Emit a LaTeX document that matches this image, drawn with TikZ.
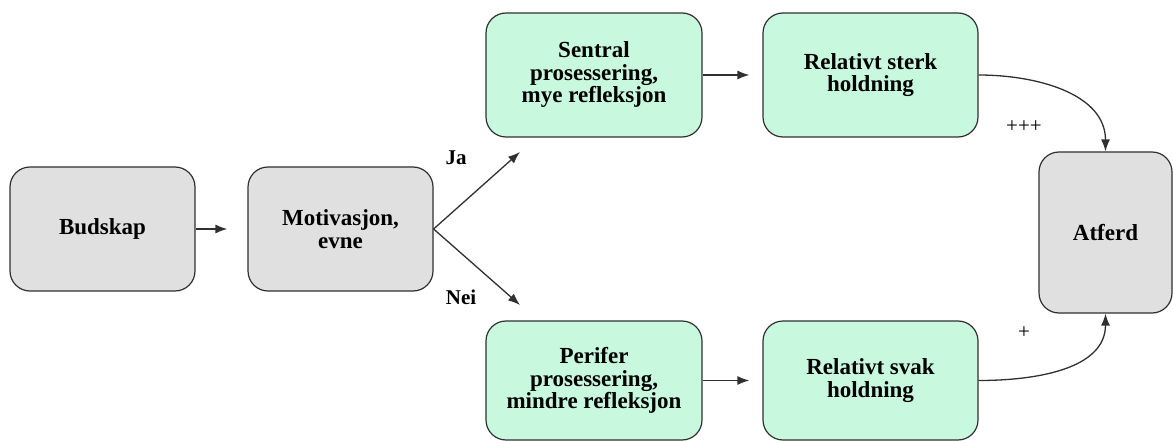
\documentclass[tikz,border=0pt]{standalone}
\usepackage{fontspec}
\setmainfont{Liberation Serif}
\usetikzlibrary{arrows.meta}
\definecolor{boxgray}{HTML}{E0E0E0}
\definecolor{boxgreen}{HTML}{C8F8DE}
\definecolor{edge}{HTML}{303030}
\begin{document}
\begin{tikzpicture}[x=1pt,y=-1pt,
  box/.style={draw=edge, line width=1.2pt, rounded corners=20pt, align=center,
    font=\fontsize{23}{22.5}\selectfont\bfseries, inner sep=0pt},
  graybox/.style={box, fill=boxgray},
  greenbox/.style={box, fill=boxgreen},
  link/.style={draw=edge, line width=1.3pt, -{Latex[length=12pt,width=9pt]}},
  lbl/.style={font=\fontsize{21}{22}\selectfont\bfseries, inner sep=0pt},
  sign/.style={font=\fontsize{21}{22}\selectfont, inner sep=0pt}]
\useasboundingbox (0,0) rectangle (1173,441);

\node[graybox, minimum width=185pt, minimum height=124pt] (budskap) at (102.5,229) {Budskap};
\node[graybox, minimum width=185pt, minimum height=124pt] (motiv) at (340.5,229) {Motivasjon,\\evne};
\node[greenbox, minimum width=216pt, minimum height=124pt] (sentral) at (594,75) {Sentral\\prosessering,\\mye refleksjon};
\node[greenbox, minimum width=215pt, minimum height=124pt] (sterk) at (870.5,75) {Relativt sterk\\holdning};
\node[greenbox, minimum width=216pt, minimum height=119pt] (perifer) at (594,380.5) {Perifer\\prosessering,\\mindre refleksjon};
\node[greenbox, minimum width=215pt, minimum height=119pt] (svak) at (870.5,380.5) {Relativt svak\\holdning};
\node[graybox, minimum width=133pt, minimum height=161pt] (atferd) at (1105.5,232.5) {Atferd};

\coordinate (jaend) at (520,152);
\coordinate (neiend) at (520,305);

\draw[link, shorten >=20pt] (budskap) -- (motiv);
\draw[link] (motiv.east) -- (jaend);
\draw[link] (motiv.east) -- (neiend);
\draw[link, shorten >=13pt] (sentral) -- (sterk);
\draw[link, shorten >=13pt] (perifer) -- (svak);
\draw[link] (sterk.east) to[out=0, in=90] (atferd.north);
\draw[link] (svak.east) to[out=0, in=-90] (atferd.south);

\node[lbl] (ja) at (456,158) {Ja};
\node[lbl] (nei) at (461,297) {Nei};
\node[sign] (strong) at (1024,127) {+++};
\node[sign] (weak) at (1024,333) {+};
\end{tikzpicture}
\end{document}
